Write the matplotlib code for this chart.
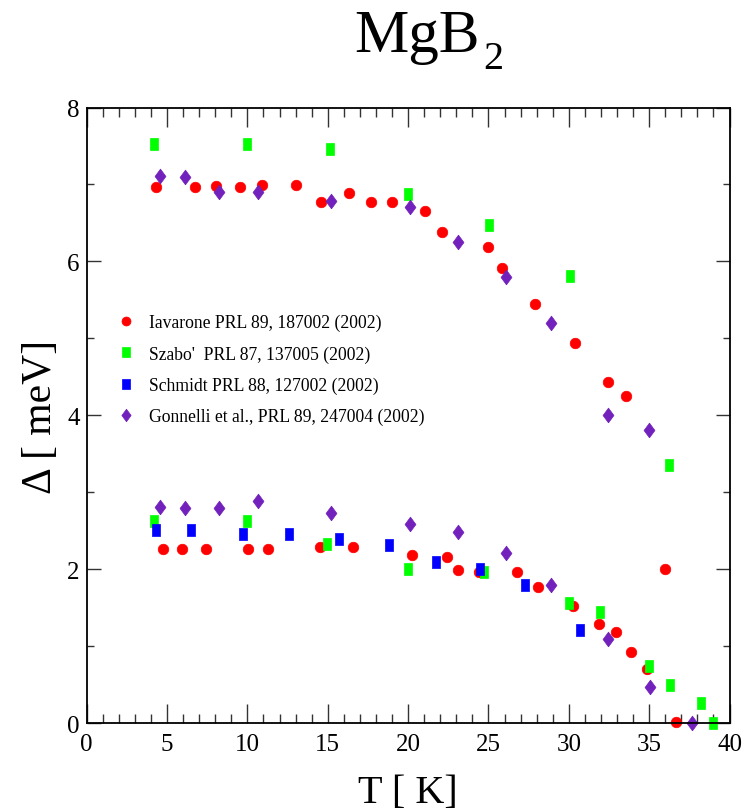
import matplotlib
matplotlib.use("Agg")
import matplotlib.pyplot as plt
from matplotlib.ticker import MultipleLocator

# Iavarone (both gaps)
iav_T = [4.3, 6.75, 8.05, 9.55, 10.9, 13.05, 14.55, 16.35, 17.7, 19.0, 21.05, 22.1,
         25.0, 25.85, 27.9, 30.4, 32.45, 33.55,
         4.75, 5.9, 7.4, 10.05, 11.3, 14.5, 16.6, 20.25, 22.45, 23.1, 24.4, 26.8,
         28.1, 30.25, 31.9, 32.95, 33.9, 34.85, 36.0, 36.7]
iav_D = [6.97, 6.97, 6.98, 6.97, 6.99, 6.99, 6.77, 6.89, 6.77, 6.77, 6.66, 6.38,
         6.19, 5.92, 5.45, 4.94, 4.43, 4.25,
         2.27, 2.27, 2.27, 2.27, 2.27, 2.29, 2.29, 2.19, 2.16, 1.99, 1.97, 1.97,
         1.77, 1.52, 1.29, 1.18, 0.92, 0.71, 2.0, 0.02]

# Szabo'
sza_T = [4.2, 10.0, 15.15, 20.0, 25.05, 30.1, 36.25,
         4.2, 10.0, 14.95, 20.0, 24.75, 30.0, 31.95, 35.0, 36.3, 38.2, 38.95]
sza_D = [7.53, 7.53, 7.46, 6.87, 6.47, 5.81, 3.36,
         2.63, 2.63, 2.33, 2.0, 1.97, 1.56, 1.45, 0.74, 0.50, 0.27, 0.01]

# Schmidt
sch_T = [4.3, 6.5, 9.7, 12.6, 15.7, 18.8, 21.75, 24.5, 27.25, 30.7]
sch_D = [2.51, 2.51, 2.46, 2.46, 2.40, 2.31, 2.10, 2.01, 1.80, 1.21]

# Gonnelli
gon_T = [4.55, 6.1, 8.25, 10.65, 15.2, 20.1, 23.1, 26.1, 28.9, 32.45, 35.0,
         4.55, 6.1, 8.25, 10.65, 15.2, 20.1, 23.1, 26.1, 28.9, 32.45, 35.05, 37.65]
gon_D = [7.11, 7.10, 6.90, 6.90, 6.79, 6.71, 6.25, 5.80, 5.20, 4.00, 3.81,
         2.81, 2.80, 2.80, 2.89, 2.73, 2.59, 2.48, 2.21, 1.80, 1.09, 0.47, 0.01]

labels = ["Iavarone PRL 89, 187002 (2002)",
          "Szabo'  PRL 87, 137005 (2002)",
          "Schmidt PRL 88, 127002 (2002)",
          "Gonnelli et al., PRL 89, 247004 (2002)"]

plt.rcParams["font.family"] = ["Liberation Serif", "DejaVu Serif"]

# tall markers (the original picture is a bit stretched)
rect = [(-0.36, -0.5), (0.36, -0.5), (0.36, 0.5), (-0.36, 0.5), (-0.36, -0.5)]
diam = [(0, -0.5), (0.37, 0), (0, 0.5), (-0.37, 0), (0, -0.5)]

fig = plt.figure(figsize=(7.53, 8.12), dpi=100)
ax = fig.add_axes([86.7 / 753, 1 - 724.3 / 812, 642.8 / 753, 615.8 / 812])

ax.plot(iav_T, iav_D, ls="none", marker="o", ms=7.6, mfc="#ff0000", mec="#ff0000",
        mew=0.5, label=labels[0], clip_on=False)
ax.plot(sza_T, sza_D, ls="none", marker=rect, ms=8.7, mfc="#00ff00", mec="#00ff00",
        mew=0.5, label=labels[1], clip_on=False)
ax.plot(sch_T, sch_D, ls="none", marker=rect, ms=8.4, mfc="#0000ff", mec="#0000ff",
        mew=0.5, label=labels[2], clip_on=False)
ax.plot(gon_T, gon_D, ls="none", marker=diam, ms=10.6, mfc="#7221bc", mec="#7221bc",
        mew=0.5, label=labels[3], clip_on=False)

ax.set_xlim(0, 40)
ax.set_ylim(0, 8)
ax.xaxis.set_major_locator(MultipleLocator(5))
ax.xaxis.set_minor_locator(MultipleLocator(1))
ax.yaxis.set_major_locator(MultipleLocator(2))
ax.yaxis.set_minor_locator(MultipleLocator(1))
ax.tick_params(axis="both", which="both", direction="in", top=True, right=True,
               color="#333333", width=1)
ax.tick_params(axis="x", which="major", length=13.5, labelsize=18, pad=7)
ax.tick_params(axis="x", which="minor", length=6.5)
ax.tick_params(axis="y", which="major", length=10, labelsize=18, pad=5)
ax.tick_params(axis="y", which="minor", length=5)
for s in ax.spines.values():
    s.set_linewidth(1.3)

# title: MgB with a lowered 2
fig.text(480 / 753, 1 - 52 / 812, "MgB", fontsize=44, ha="right", va="baseline")
fig.text(483 / 753, 1 - 69 / 812, "2", fontsize=29, ha="left", va="baseline")
fig.text(408 / 753, 1 - 803 / 812, "T [ K]", fontsize=29, ha="center", va="baseline")
fig.text(41 / 753, 1 - 416.5 / 812, "\u0394 [ meV]", fontsize=30, rotation=90,
         ha="center", va="center")

ax.legend(loc="upper left", bbox_to_anchor=(108 / 753, 1 - 306 / 812),
          bbox_transform=fig.transFigure, frameon=False, borderpad=0,
          handlelength=1.0, handletextpad=0.8, labelspacing=0.8,
          markerscale=0.85, fontsize=12.7)

fig.savefig("out.png", dpi=100)
